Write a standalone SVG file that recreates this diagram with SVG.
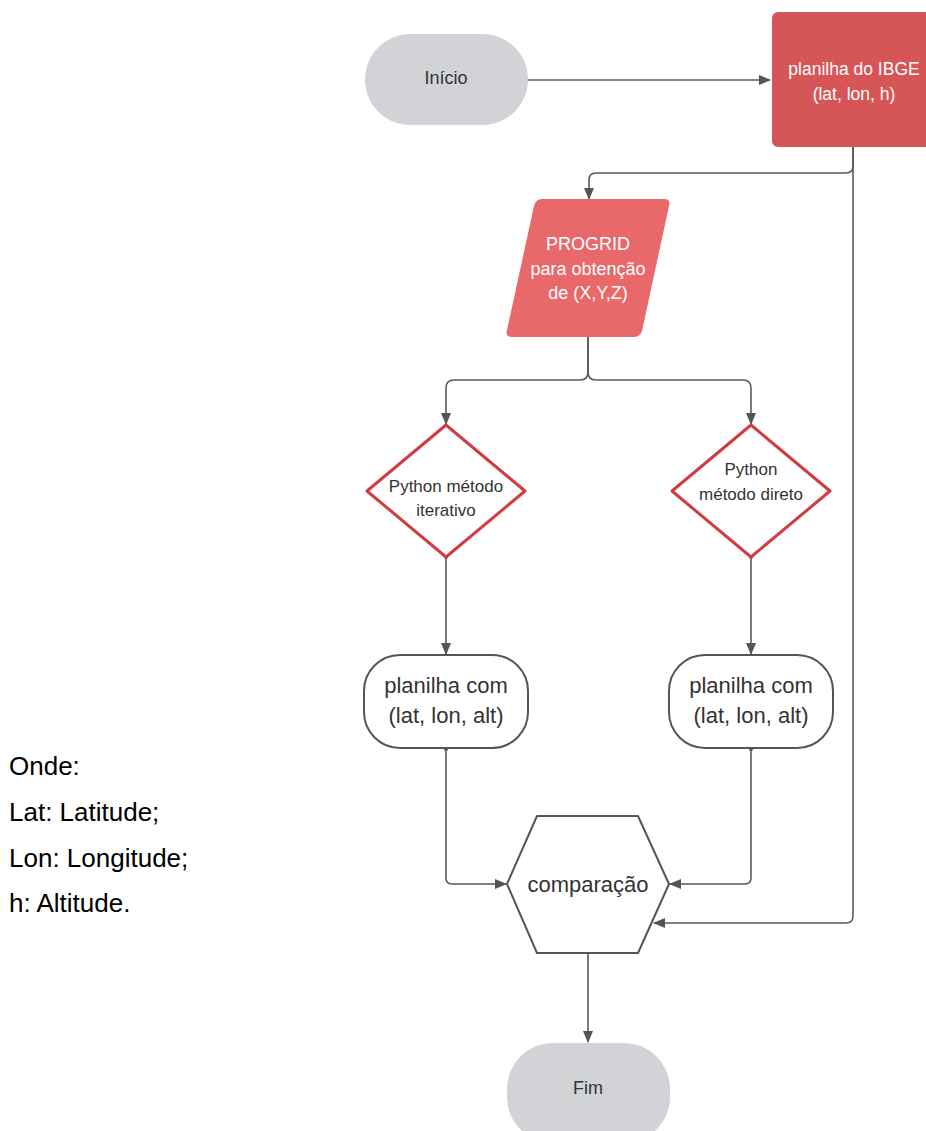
<svg xmlns="http://www.w3.org/2000/svg" width="926" height="1131" viewBox="0 0 926 1131">
<style>
  text { font-family: "Liberation Sans", Arial, sans-serif; }
  .dark { fill: #333333; }
  .white { fill: #ffffff; }
  .conn { fill: none; stroke: #5a5a5a; stroke-width: 1.6; }
  .term { fill: #d1d3d6; }
  .out { fill: #ffffff; stroke: #555555; stroke-width: 2; }
  .dec { fill: #ffffff; stroke: #d13c40; stroke-width: 3; stroke-linejoin: round; }
  .legend { font-size: 26px; fill: #000000; }
</style>
<defs>
  <marker id="arr" viewBox="0 0 12 10" refX="11" refY="5" markerWidth="12" markerHeight="10" markerUnits="userSpaceOnUse" orient="auto">
    <path d="M0,0 L12,5 L0,10 Z" fill="#555555"/>
  </marker>
</defs>

<g id="legend">
  <text class="legend" x="9" y="775">Onde:</text>
  <text class="legend" x="9" y="821">Lat: Latitude;</text>
  <text class="legend" x="9" y="867">Lon: Longitude;</text>
  <text class="legend" x="9" y="912">h: Altitude.</text>
</g>

<g id="connectors">
  <path class="conn" d="M528,80 L770,80" marker-end="url(#arr)"/>
  <path class="conn" d="M853,147 L853,166 Q853,173 846,173 L596,173 Q589,173 589,180 L589,199" marker-end="url(#arr)"/>
  <path class="conn" d="M853,147 L853,916 Q853,923 846,923 L654,923" marker-end="url(#arr)"/>
  <path class="conn" d="M588,337 L588,372 Q588,380 580,380 L454,380 Q446,380 446,388 L446,424" marker-end="url(#arr)"/>
  <path class="conn" d="M588,337 L588,372 Q588,380 596,380 L743,380 Q751,380 751,388 L751,424" marker-end="url(#arr)"/>
  <path class="conn" d="M446,557 L446,654" marker-end="url(#arr)"/>
  <path class="conn" d="M751,557 L751,654" marker-end="url(#arr)"/>
  <path class="conn" d="M446,748 L446,878 Q446,884 452,884 L506,884" marker-end="url(#arr)"/>
  <path class="conn" d="M751,748 L751,878 Q751,884 745,884 L670,884" marker-end="url(#arr)"/>
  <path class="conn" d="M588,953 L588,1042" marker-end="url(#arr)"/>
  <circle cx="446" cy="557" r="2" fill="#555555"/>
  <circle cx="751" cy="557" r="2" fill="#555555"/>
  <circle cx="446" cy="749" r="2" fill="#555555"/>
  <circle cx="751" cy="749" r="2" fill="#555555"/>
</g>

<g id="inicio">
  <rect class="term" x="365" y="34" width="163" height="91" rx="45.5" ry="45.5"/>
  <text class="dark" x="446" y="84" font-size="18" text-anchor="middle">Início</text>
</g>

<g id="ibge">
  <rect x="772" y="12" width="170" height="135" rx="6" ry="6" fill="#d65658"/>
  <text class="white" x="854" y="75" font-size="17.5" text-anchor="middle">planilha do IBGE</text>
  <text class="white" x="854" y="100" font-size="17.5" text-anchor="middle">(lat, lon, h)</text>
</g>

<g id="progrid">
  <path d="M542,199 L664,199 Q671,199 669,206 L642,331 Q640,337 633,337 L512,337 Q505,337 507,330 L534,206 Q536,199 542,199 Z" fill="#e9696b"/>
  <text class="white" x="588" y="250" font-size="18" text-anchor="middle">PROGRID</text>
  <text class="white" x="588" y="275" font-size="18" text-anchor="middle">para obtenção</text>
  <text class="white" x="588" y="299" font-size="18" text-anchor="middle">de (X,Y,Z)</text>
</g>

<g id="python-iterativo">
  <path class="dec" d="M446,425 L525,491 L446,557 L367,491 Z"/>
  <text class="dark" x="446" y="492" font-size="17" text-anchor="middle">Python método</text>
  <text class="dark" x="446" y="516" font-size="17" text-anchor="middle">iterativo</text>
</g>

<g id="python-direto">
  <path class="dec" d="M751,425 L830,491 L751,557 L672,491 Z"/>
  <text class="dark" x="751" y="475" font-size="17" text-anchor="middle">Python</text>
  <text class="dark" x="751" y="500" font-size="17" text-anchor="middle">método direto</text>
</g>

<g id="planilha-iterativo">
  <rect class="out" x="364" y="655" width="164" height="93" rx="36" ry="36"/>
  <text class="dark" x="446" y="693" font-size="22" text-anchor="middle">planilha com</text>
  <text class="dark" x="446" y="723" font-size="22" text-anchor="middle">(lat, lon, alt)</text>
</g>

<g id="planilha-direto">
  <rect class="out" x="669" y="655" width="164" height="93" rx="36" ry="36"/>
  <text class="dark" x="751" y="693" font-size="22" text-anchor="middle">planilha com</text>
  <text class="dark" x="751" y="723" font-size="22" text-anchor="middle">(lat, lon, alt)</text>
</g>

<g id="comparacao">
  <path class="out" d="M507,884 L537,816 L638,816 L669,884 L638,953 L537,953 Z" stroke-linejoin="round"/>
  <text class="dark" x="588" y="892" font-size="22" text-anchor="middle">comparação</text>
</g>

<g id="fim">
  <rect class="term" x="507" y="1043" width="163" height="100" rx="46" ry="46"/>
  <text class="dark" x="588" y="1094" font-size="18" text-anchor="middle">Fim</text>
</g>
</svg>
